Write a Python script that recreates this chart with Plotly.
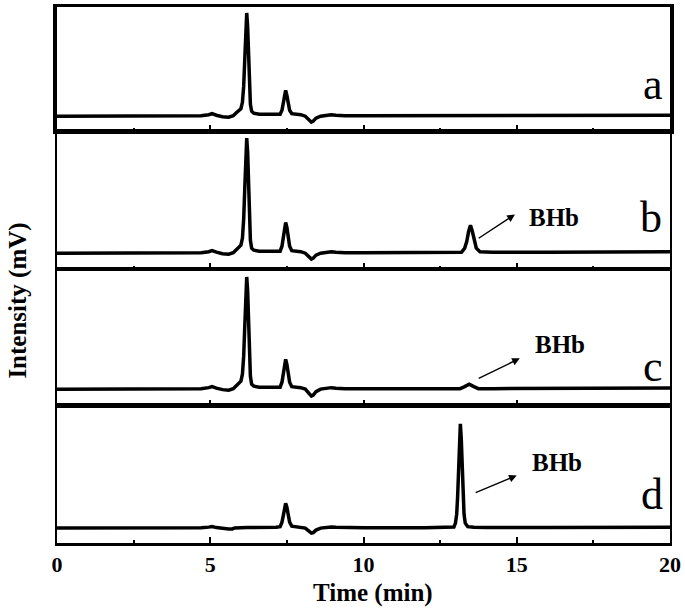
import plotly.graph_objects as go

# ---- data (time in min, intensity in arbitrary mV) ----
time_a = [0, 1, 2, 3, 4, 4.7, 4.95, 5.06, 5.2, 5.4, 5.6, 5.75, 5.85, 5.93, 6.0, 6.05, 6.09, 6.13, 6.16, 6.19,
          6.22, 6.25, 6.28, 6.31, 6.35, 6.42, 6.6, 6.9, 7.15, 7.28, 7.34, 7.38, 7.42, 7.46, 7.5, 7.54, 7.59,
          7.66, 7.8, 7.95, 8.1, 8.2, 8.3, 8.36, 8.45, 8.6, 8.8, 8.95, 9.1, 9.4, 10, 12, 14, 16, 18, 20]
int_a = [0, 0, 0, 0, 0, 0.5, 1.5, 2.5, 1, -0.5, -1, 0.5, 3.5, 6, 7.5, 14, 30, 60, 90, 104,
         90, 60, 30, 12, 5, 3, 2, 2, 1.5, 2, 6, 12, 21, 26, 21, 12, 6,
         2.5, 2, 1.5, 0, -3, -6, -5, -2, 0, 1, 1.5, 1, 0.5, 0.5, 0.5, 0.5, 0.8, 1, 1]

time_b = [0, 1, 2, 3, 4, 4.7, 4.95, 5.06, 5.2, 5.4, 5.6, 5.75, 5.85, 5.93, 6.0, 6.05, 6.09, 6.13, 6.16, 6.19,
          6.22, 6.25, 6.28, 6.31, 6.35, 6.42, 6.6, 6.9, 7.15, 7.28, 7.34, 7.38, 7.42, 7.46, 7.5, 7.54, 7.59,
          7.66, 7.8, 7.95, 8.1, 8.2, 8.3, 8.36, 8.45, 8.6, 8.8, 8.95, 9.1, 9.4, 10, 12, 13.2, 13.3, 13.37,
          13.43, 13.49, 13.55, 13.61, 13.68, 13.8, 14.2, 16, 18, 20]
int_b = [0, 0, 0, 0, 0, 0.5, 1.5, 2.5, 1, -0.5, -1, 0.5, 3.5, 6, 8, 15, 34, 68, 102, 116,
         102, 68, 34, 13, 5, 3, 2, 2, 1.5, 2, 7, 14, 26, 31, 26, 14, 7,
         2.5, 2, 1.5, 0, -3, -6, -5, -2, 0, 1, 1.5, 1, 0.5, 0.5, 0.5, 1, 5, 12,
         22, 28, 22, 12, 5, 1.5, 1, 1, 1, 1.5]

time_c = [0, 1, 2, 3, 4, 4.7, 4.95, 5.06, 5.2, 5.4, 5.6, 5.75, 5.85, 5.93, 6.0, 6.05, 6.09, 6.13, 6.16, 6.19,
          6.22, 6.25, 6.28, 6.31, 6.35, 6.42, 6.6, 6.9, 7.15, 7.28, 7.34, 7.38, 7.42, 7.46, 7.5, 7.54, 7.59,
          7.66, 7.8, 7.95, 8.1, 8.2, 8.3, 8.36, 8.45, 8.6, 8.8, 8.95, 9.1, 9.4, 10, 12, 13.15, 13.3, 13.45,
          13.6, 13.75, 14.2, 16, 17.5, 18, 20]
int_c = [0, 0, 0, 0, 0, 0.5, 1.5, 2.5, 1, -0.5, -1, 0.5, 3.5, 6, 8, 15, 33, 66, 99, 113,
         99, 66, 33, 13, 5, 3, 2, 2, 1.5, 2, 7, 14, 25, 30, 25, 14, 7,
         2.5, 2, 1.5, 0, -3.5, -7, -6, -2.5, 0, 1, 1.5, 1, 0.5, 0.5, 0.5, 0.5, 2.5, 5,
         2.5, 0.5, 0.5, 0.5, 0.8, 1.2, 1.2]

time_d = [0, 1, 2, 3, 4, 4.7, 4.95, 5.06, 5.2, 5.4, 5.6, 5.72, 5.8, 6.2, 6.8, 7.15, 7.28, 7.34, 7.38, 7.42,
          7.46, 7.5, 7.54, 7.59, 7.66, 7.8, 7.95, 8.1, 8.2, 8.3, 8.36, 8.45, 8.6, 8.8, 8.95, 9.1, 9.4, 10,
          12, 12.8, 12.95, 13.0, 13.04, 13.07, 13.1, 13.13, 13.16, 13.19, 13.22, 13.25, 13.28, 13.32, 13.4,
          13.6, 14, 16, 18, 20]
int_d = [0, 0, 0, 0, 0, 0.3, 1, 1.5, 0.5, -0.5, -0.8, -0.8, 0.2, 0.5, 0.5, 0.8, 1.5, 6, 12, 21,
         25, 21, 12, 6, 2, 1.5, 1, 0, -2.5, -5, -4.5, -2, 0, 0.8, 1, 0.8, 0.5, 0.3,
         0.3, 0.5, 1, 5, 14, 31, 60, 90, 105, 90, 60, 31, 14, 5, 1.5,
         0.8, 0.5, 0.5, 0.5, 0.8]

panel_labels = ["a", "b", "c", "d"]
peak_label = "BHb"
x_ticks = [0, 5, 10, 15, 20]

# ---- figure ----
FONT = "Liberation Serif"
fig = go.Figure()

panels = [  # (time, intensity, xaxis, yaxis)
    (time_a, int_a, "x4", "y4"),
    (time_b, int_b, "x3", "y3"),
    (time_c, int_c, "x2", "y2"),
    (time_d, int_d, "x", "y"),
]
for t, v, xa, ya in panels:
    fig.add_trace(go.Scatter(x=t, y=v, mode="lines", xaxis=xa, yaxis=ya,
                             line=dict(color="black", width=3.5), showlegend=False,
                             hoverinfo="skip"))

common_x = dict(range=[0, 20], showgrid=False, zeroline=False, showline=True, linecolor="black",
                mirror=True, ticks="inside", tickvals=x_ticks, ticklen=6, tickwidth=2,
                tickcolor="black", minor=dict(dtick=2.5, tick0=0, ticks="inside", ticklen=3,
                                              tickwidth=2, tickcolor="black"))
common_y = dict(showgrid=False, zeroline=False, showline=True, linecolor="black", mirror=True,
                showticklabels=False, ticks="")

fig.update_layout(
    width=685, height=612,
    margin=dict(l=57, r=11, t=4, b=69),
    paper_bgcolor="white", plot_bgcolor="white",
    xaxis=dict(**common_x, anchor="y", linewidth=2.5, showticklabels=True,
               ticktext=[str(v) for v in x_ticks],
               tickfont=dict(family=FONT, size=22, color="black", weight="bold")),
    xaxis2=dict(**common_x, anchor="y2", matches="x", showticklabels=False, linewidth=1.6),
    xaxis3=dict(**common_x, anchor="y3", matches="x", showticklabels=False, linewidth=1.6),
    xaxis4=dict(**common_x, anchor="y4", matches="x", showticklabels=False, linewidth=3),
    yaxis=dict(**common_y, domain=[0, 0.2556], range=[-15, 123], linewidth=2.2),
    yaxis2=dict(**common_y, domain=[0.2556, 0.5111], range=[-17, 121], linewidth=2.2),
    yaxis3=dict(**common_y, domain=[0.5111, 0.7685], range=[-16, 123], linewidth=2.2),
    yaxis4=dict(**common_y, domain=[0.7685, 1.0], range=[-15, 110], linewidth=3.5),
)

# panel letters
letter_pos = [("x4", "y4", 19.45, 32), ("x3", "y3", 19.38, 36), ("x2", "y2", 19.45, 23), ("x", "y", 19.4, 34)]
for lab, (xa, ya, lx, ly) in zip(panel_labels, letter_pos):
    fig.add_annotation(x=lx, y=ly, xref=xa, yref=ya, text=lab, showarrow=False,
                       font=dict(family=FONT, size=44, color="black"), xanchor="center", yanchor="middle")

# BHb labels and arrows
bhb = [("x3", "y3", 16.2, 36, 13.71, 14, 14.94, 39),
       ("x2", "y2", 16.4, 45, 13.71, 10, 15.1, 31),
       ("x", "y", 16.3, 66, 13.61, 35, 15.0, 53)]
for xa, ya, tx, ty, x0, y0, x1, y1 in bhb:
    fig.add_annotation(x=tx, y=ty, xref=xa, yref=ya, text="<b>%s</b>" % peak_label, showarrow=False,
                       font=dict(family=FONT, size=25, color="black"), xanchor="center", yanchor="middle")
    fig.add_annotation(x=x1, y=y1, xref=xa, yref=ya, ax=x0, ay=y0, axref=xa, ayref=ya, text="",
                       showarrow=True, arrowhead=2, arrowsize=1.1, arrowwidth=1.4, arrowcolor="black",
                       standoff=0, startstandoff=0)

# axis titles
fig.add_annotation(x=(375 - 57) / 617, y=-50 / 539, xref="paper", yref="paper", text="<b>Time (min)</b>",
                   showarrow=False, font=dict(family=FONT, size=25, color="black"),
                   xanchor="center", yanchor="middle")
fig.add_annotation(x=(18 - 57) / 617, y=(543 - 299) / 539, xref="paper", yref="paper",
                   text="<b>Intensity (mV)</b>", textangle=-90, showarrow=False,
                   font=dict(family=FONT, size=25, color="black"), xanchor="center", yanchor="middle")

fig.write_html("out.html", config={"displayModeBar": False},
               post_script="document.body.style.margin='0px';")
